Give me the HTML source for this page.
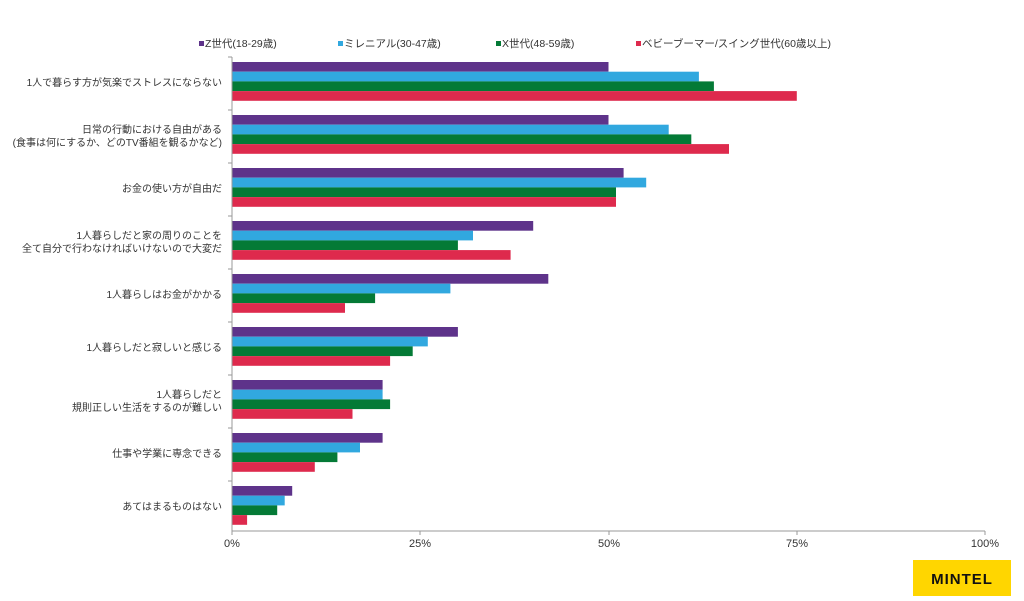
<!DOCTYPE html>
<html><head><meta charset="utf-8"><style>
body{margin:0;background:#fff}
text{font-family:"Liberation Sans","Noto Sans CJK JP",sans-serif;fill:#333}
</style></head><body>
<svg width="1024" height="596" xmlns="http://www.w3.org/2000/svg">
<g font-size="10.5">
<rect x="199" y="41" width="5" height="5" fill="#5e338a"/><text x="205" y="47">Z世代(18-29歳)</text>
<rect x="338" y="41" width="5" height="5" fill="#31a8df"/><text x="344" y="47">ミレニアル(30-47歳)</text>
<rect x="496" y="41" width="5" height="5" fill="#047a36"/><text x="502" y="47">X世代(48-59歳)</text>
<rect x="636" y="41" width="5" height="5" fill="#de2a4d"/><text x="642" y="47">ベビーブーマー/スイング世代(60歳以上)</text>
</g>
<g>
<rect x="232" y="62" width="376.5" height="9.7" fill="#5e338a"/>
<rect x="232" y="71.7" width="466.9" height="9.7" fill="#31a8df"/>
<rect x="232" y="81.4" width="481.9" height="9.7" fill="#047a36"/>
<rect x="232" y="91.1" width="564.8" height="9.7" fill="#de2a4d"/>

<rect x="232" y="115" width="376.5" height="9.7" fill="#5e338a"/>
<rect x="232" y="124.7" width="436.7" height="9.7" fill="#31a8df"/>
<rect x="232" y="134.4" width="459.3" height="9.7" fill="#047a36"/>
<rect x="232" y="144.1" width="497" height="9.7" fill="#de2a4d"/>

<rect x="232" y="168" width="391.6" height="9.7" fill="#5e338a"/>
<rect x="232" y="177.7" width="414.2" height="9.7" fill="#31a8df"/>
<rect x="232" y="187.4" width="384" height="9.7" fill="#047a36"/>
<rect x="232" y="197.1" width="384" height="9.7" fill="#de2a4d"/>

<rect x="232" y="221" width="301.2" height="9.7" fill="#5e338a"/>
<rect x="232" y="230.7" width="241" height="9.7" fill="#31a8df"/>
<rect x="232" y="240.4" width="225.9" height="9.7" fill="#047a36"/>
<rect x="232" y="250.1" width="278.6" height="9.7" fill="#de2a4d"/>

<rect x="232" y="274" width="316.3" height="9.7" fill="#5e338a"/>
<rect x="232" y="283.7" width="218.4" height="9.7" fill="#31a8df"/>
<rect x="232" y="293.4" width="143.1" height="9.7" fill="#047a36"/>
<rect x="232" y="303.1" width="113" height="9.7" fill="#de2a4d"/>

<rect x="232" y="327" width="225.9" height="9.7" fill="#5e338a"/>
<rect x="232" y="336.7" width="195.8" height="9.7" fill="#31a8df"/>
<rect x="232" y="346.4" width="180.7" height="9.7" fill="#047a36"/>
<rect x="232" y="356.1" width="158.1" height="9.7" fill="#de2a4d"/>

<rect x="232" y="380" width="150.6" height="9.7" fill="#5e338a"/>
<rect x="232" y="389.7" width="150.6" height="9.7" fill="#31a8df"/>
<rect x="232" y="399.4" width="158.1" height="9.7" fill="#047a36"/>
<rect x="232" y="409.1" width="120.5" height="9.7" fill="#de2a4d"/>

<rect x="232" y="433" width="150.6" height="9.7" fill="#5e338a"/>
<rect x="232" y="442.7" width="128" height="9.7" fill="#31a8df"/>
<rect x="232" y="452.4" width="105.4" height="9.7" fill="#047a36"/>
<rect x="232" y="462.1" width="82.8" height="9.7" fill="#de2a4d"/>

<rect x="232" y="486" width="60.2" height="9.7" fill="#5e338a"/>
<rect x="232" y="495.7" width="52.7" height="9.7" fill="#31a8df"/>
<rect x="232" y="505.4" width="45.2" height="9.7" fill="#047a36"/>
<rect x="232" y="515.1" width="15.1" height="9.7" fill="#de2a4d"/>
</g>
<line x1="232" y1="57" x2="232" y2="531" stroke="#999"/>
<line x1="232" y1="531" x2="985" y2="531" stroke="#999"/>
<g stroke="#999">
<line x1="232" y1="531" x2="232" y2="535"/><line x1="420" y1="531" x2="420" y2="535"/><line x1="609" y1="531" x2="609" y2="535"/><line x1="797" y1="531" x2="797" y2="535"/><line x1="985" y1="531" x2="985" y2="535"/>
<line x1="228" y1="57" x2="232" y2="57"/>
<line x1="228" y1="110" x2="232" y2="110"/><line x1="228" y1="163" x2="232" y2="163"/><line x1="228" y1="216" x2="232" y2="216"/><line x1="228" y1="269" x2="232" y2="269"/><line x1="228" y1="322" x2="232" y2="322"/><line x1="228" y1="375" x2="232" y2="375"/><line x1="228" y1="428" x2="232" y2="428"/><line x1="228" y1="481" x2="232" y2="481"/>
</g>
<g font-size="11" text-anchor="middle">
<text x="232" y="547">0%</text><text x="420" y="547">25%</text><text x="609" y="547">50%</text><text x="797" y="547">75%</text><text x="985" y="547">100%</text>
</g>
<g font-size="10" text-anchor="end">
<text x="222" y="86">1人で暮らす方が気楽でストレスにならない</text>
<text x="222" y="133">日常の行動における自由がある</text>
<text x="222" y="146">(食事は何にするか、どのTV番組を観るかなど)</text>
<text x="222" y="192">お金の使い方が自由だ</text>
<text x="222" y="239">1人暮らしだと家の周りのことを</text>
<text x="222" y="252">全て自分で行わなければいけないので大変だ</text>
<text x="222" y="298">1人暮らしはお金がかかる</text>
<text x="222" y="351">1人暮らしだと寂しいと感じる</text>
<text x="222" y="398">1人暮らしだと</text>
<text x="222" y="411">規則正しい生活をするのが難しい</text>
<text x="222" y="457">仕事や学業に専念できる</text>
<text x="222" y="510">あてはまるものはない</text>
</g>
<rect x="913" y="560" width="98" height="36" fill="#ffd600"/>
<text x="962" y="584" font-size="15" font-weight="bold" text-anchor="middle" style="fill:#111;letter-spacing:1px">MINTEL</text>
</svg>
</body></html>
